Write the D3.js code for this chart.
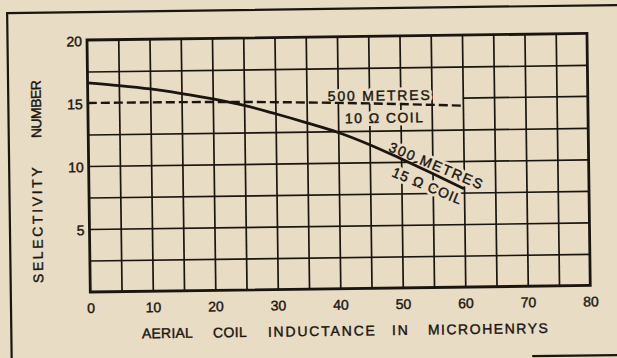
<!DOCTYPE html>
<html>
<head>
<meta charset="utf-8">
<script src="https://cdn.jsdelivr.net/npm/d3@7"></script>
<style>
  html, body { margin: 0; padding: 0; background: #e8dcc4; }
  svg { display: block; }
</style>
</head>
<body>
<svg id="chart" width="617" height="358"></svg>
<script>
// Selectivity number against aerial coil inductance (microhenrys)
const inductance300 = [0, 5, 10, 15, 20, 25, 30, 35, 40, 45, 50, 55, 60];
const selectivity300 = [16.6, 16.35, 16.05, 15.65, 15.2, 14.65, 13.95, 13.2, 12.4, 11.4, 10.25, 9.05, 7.8];
const inductance500 = [0, 20, 40, 60];
const selectivity500 = [15.0, 14.95, 14.75, 14.4];
const xTicks = [0, 10, 20, 30, 40, 50, 60, 70, 80];
const yTicks = [5, 10, 15, 20];
const xTitleWords = ["AERIAL", "COIL", "INDUCTANCE", "IN", "MICROHENRYS"];
const yTitleWords = ["SELECTIVITY", "NUMBER"];

const paper = "#e8dcc4";
const ink = "#1a150f";
const font = "'Liberation Sans', Arial, Helvetica, sans-serif";

const svg = d3.select("#chart");
svg.append("rect").attr("width", 617).attr("height", 358).attr("fill", paper);

const plotLeft = 87, plotTop = 40, pw = 500, ph = 252;
const x = d3.scaleLinear().domain([0, 80]).range([plotLeft, plotLeft + pw]);
const y = d3.scaleLinear().domain([0, 20]).range([plotTop + ph, plotTop]);

// the printed page sits slightly askew
const page = svg.append("g").attr("transform", `rotate(-0.75, ${plotLeft}, ${plotTop})`);

// printed text: slightly heavy letterforms
function inked(sel, size) {
  return sel.attr("font-family", font).attr("font-size", size)
    .attr("fill", ink).attr("stroke", ink).attr("stroke-width", 0.4);
}

// outer page rule
page.append("path")
  .attr("d", "M7.5,375 L7.5,12 L660,12")
  .attr("fill", "none").attr("stroke", ink).attr("stroke-width", 2.2);
page.append("line")
  .attr("x1", 528).attr("x2", 660).attr("y1", 362).attr("y2", 362)
  .attr("stroke", ink).attr("stroke-width", 2.2);

// grid
const gx = page.append("g")
  .attr("transform", `translate(0,${plotTop + ph})`)
  .call(d3.axisBottom(x).tickValues(d3.range(5, 80, 5)).tickSize(-ph).tickFormat(""));
const gy = page.append("g")
  .attr("transform", `translate(${plotLeft},0)`)
  .call(d3.axisLeft(y).tickValues(d3.range(2.5, 20, 2.5).filter(v => v !== 15)).tickSize(-pw).tickFormat(""));
[gx, gy].forEach(g => {
  g.select(".domain").remove();
  g.selectAll(".tick line").attr("stroke", ink).attr("stroke-width", 1.7);
});
// the 15 rule only shows beyond the end of the dashed curve
page.append("line")
  .attr("x1", x(60)).attr("x2", x(80)).attr("y1", y(15)).attr("y2", y(15))
  .attr("stroke", ink).attr("stroke-width", 1.7);

// frame
page.append("rect")
  .attr("x", plotLeft).attr("y", plotTop).attr("width", pw).attr("height", ph)
  .attr("fill", "none").attr("stroke", ink).attr("stroke-width", 2.8);

// tick labels
const ax = page.append("g")
  .attr("transform", `translate(0,${plotTop + ph})`)
  .call(d3.axisBottom(x).tickValues(xTicks).tickSize(0).tickPadding(0));
ax.select(".domain").remove();
inked(ax.selectAll("text").attr("y", 21).attr("dy", 0), 14);

const ay = page.append("g")
  .attr("transform", `translate(${plotLeft},0)`)
  .call(d3.axisLeft(y).tickValues(yTicks).tickSize(0).tickPadding(5));
ay.select(".domain").remove();
inked(ay.selectAll("text").attr("dy", "0.4em"), 14);

// axis titles
const xTitleStarts = [138, 209, 264, 388, 424];
const xTitleLengths = [51, 34, 107, 16, 120];
inked(page.append("g").selectAll("text").data(xTitleWords).join("text")
  .attr("x", (d, i) => xTitleStarts[i])
  .attr("y", 339)
  .attr("textLength", (d, i) => xTitleLengths[i])
  .attr("lengthAdjust", "spacing")
  .text(d => d), 14);

const yTitleStarts = [282.5, 137.5];
const yTitleLengths = [116, 58];
inked(page.append("g").selectAll("text").data(yTitleWords).join("text")
  .attr("transform", (d, i) => `translate(40,${yTitleStarts[i]}) rotate(-90)`)
  .attr("textLength", (d, i) => yTitleLengths[i])
  .attr("lengthAdjust", "spacing")
  .text(d => d), 14);

// curve labels, knocked out of the grid
function label(text, px, py, angle, len) {
  const g = page.append("g")
    .attr("transform", `translate(${x(px)},${y(py)}) rotate(${angle})`);
  g.append("text")
    .attr("textLength", len).attr("lengthAdjust", "spacing")
    .attr("font-family", font).attr("font-size", 14)
    .attr("fill", paper).attr("stroke", paper).attr("stroke-width", 6)
    .attr("stroke-linejoin", "round")
    .text(text);
  inked(g.append("text")
    .attr("textLength", len).attr("lengthAdjust", "spacing")
    .text(text), 14);
}
label("500 METRES", 38.4, 14.9, 0, 102);
label("10 \u03A9 COIL", 41.1, 13.13, 0, 78);
label("300 METRES", 47.9, 10.9, 23.5, 100);
label("15 \u03A9 COIL", 48.35, 8.9, 23.5, 74);

// curves
const line = d3.line().x(d => x(d[0])).y(d => y(d[1])).curve(d3.curveMonotoneX);
page.append("path")
  .datum(d3.zip(inductance500, selectivity500))
  .attr("d", line)
  .attr("fill", "none").attr("stroke", ink).attr("stroke-width", 2.4)
  .attr("stroke-dasharray", "9,4");
page.append("path")
  .datum(d3.zip(inductance300, selectivity300))
  .attr("d", line)
  .attr("fill", "none").attr("stroke", ink).attr("stroke-width", 2.8);
</script>
</body>
</html>
